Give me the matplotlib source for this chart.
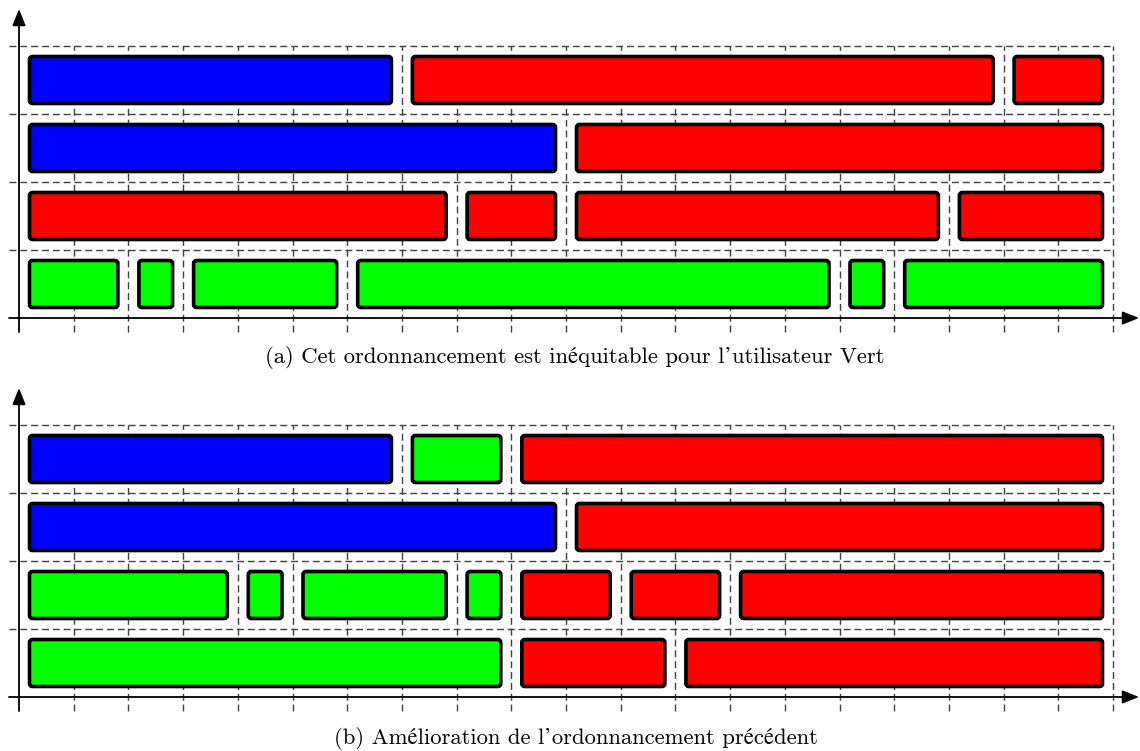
import matplotlib.pyplot as plt
from matplotlib.patches import FancyBboxPatch

# panel (a): row 0 is the bottom row
a_row = [0, 0, 0, 0, 0, 0, 1, 1, 1, 1, 2, 2, 3, 3, 3]
a_start = [0, 2, 3, 6, 15, 16, 0, 8, 10, 17, 0, 10, 0, 7, 18]
a_end = [2, 3, 6, 15, 16, 20, 8, 10, 17, 20, 10, 20, 7, 18, 20]
a_user = ['g', 'g', 'g', 'g', 'g', 'g', 'r', 'r', 'r', 'r', 'b', 'r', 'b', 'r', 'r']

# panel (b)
b_row = [0, 0, 0, 1, 1, 1, 1, 1, 1, 1, 2, 2, 3, 3, 3]
b_start = [0, 9, 12, 0, 4, 5, 8, 9, 11, 13, 0, 10, 0, 7, 9]
b_end = [9, 12, 20, 4, 5, 8, 9, 11, 13, 20, 10, 20, 7, 9, 20]
b_user = ['g', 'r', 'r', 'g', 'g', 'g', 'g', 'r', 'r', 'r', 'b', 'r', 'b', 'g', 'r']

n_slots = 20
n_rows = 4
user_colors = {'b': '#0000ff', 'r': '#ff0000', 'g': '#00ff00'}

caption_a = "(a) Cet ordonnancement est inéquitable pour l\u2019utilisateur Vert"
caption_b = "(b) Amélioration de l\u2019ordonnancement précédent"

W, H = 1140, 751
UX = 54.7   # pixels per slot
UY = 68.0   # pixels per row
X0 = 19     # pixel of x origin


def draw_panel(ax, y0, rows, starts, ends, users):
    # y0 : pixel row of the time axis
    ax.set_position([0, 1 - (y0 + 22) / H, 1, 340 / H])
    ax.set_xlim(-X0 / UX, (W - X0) / UX)
    ax.set_ylim(-22 / UY, 318 / UY)
    ax.axis('off')

    grid_kw = dict(color='#404040', lw=1.0, dashes=(5, 2.8), zorder=1)
    for k in range(1, n_rows + 1):
        ax.plot([-10 / UX, n_slots], [k, k], **grid_kw)
    for k in range(1, n_slots + 1):
        ax.plot([k, k], [-14 / UY, n_rows], **grid_kw)

    # axes with arrows
    arr = dict(arrowstyle='-|>,head_length=0.5,head_width=0.2', lw=1.3,
               color='black', mutation_scale=20, shrinkA=0, shrinkB=0)
    ax.annotate('', xy=((W - 1 - X0) / UX, 0), xytext=(-10 / UX, 0), arrowprops=arr, zorder=3)
    ax.annotate('', xy=(0, 309 / UY), xytext=(0, -14 / UY), arrowprops=arr, zorder=3)

    mx = 10.5 / UX
    my = 10.5 / UY
    for r, s, e, u in zip(rows, starts, ends, users):
        box = FancyBboxPatch((s + mx, r + my), e - s - 2 * mx, 1 - 2 * my,
                             boxstyle="round,pad=0,rounding_size=%f" % (3 / UX),
                             mutation_aspect=UX / UY,
                             facecolor=user_colors[u], edgecolor='black', lw=2.6, zorder=2)
        ax.add_patch(box)


fig = plt.figure(figsize=(W / 100, H / 100), dpi=100)
ax_a = fig.add_axes([0, 0, 1, 1])
ax_b = fig.add_axes([0, 0, 1, 1])
draw_panel(ax_a, 318, a_row, a_start, a_end, a_user)
draw_panel(ax_b, 697, b_row, b_start, b_end, b_user)

cap_font = dict(family=['cmr10', 'STIXGeneral'], size=16.3, ha='center', va='center')
fig.text(575 / W, 1 - 358 / H, caption_a, **cap_font)
fig.text(576 / W, 1 - 739 / H, caption_b, **cap_font)

fig.savefig('out.png', dpi=100)
